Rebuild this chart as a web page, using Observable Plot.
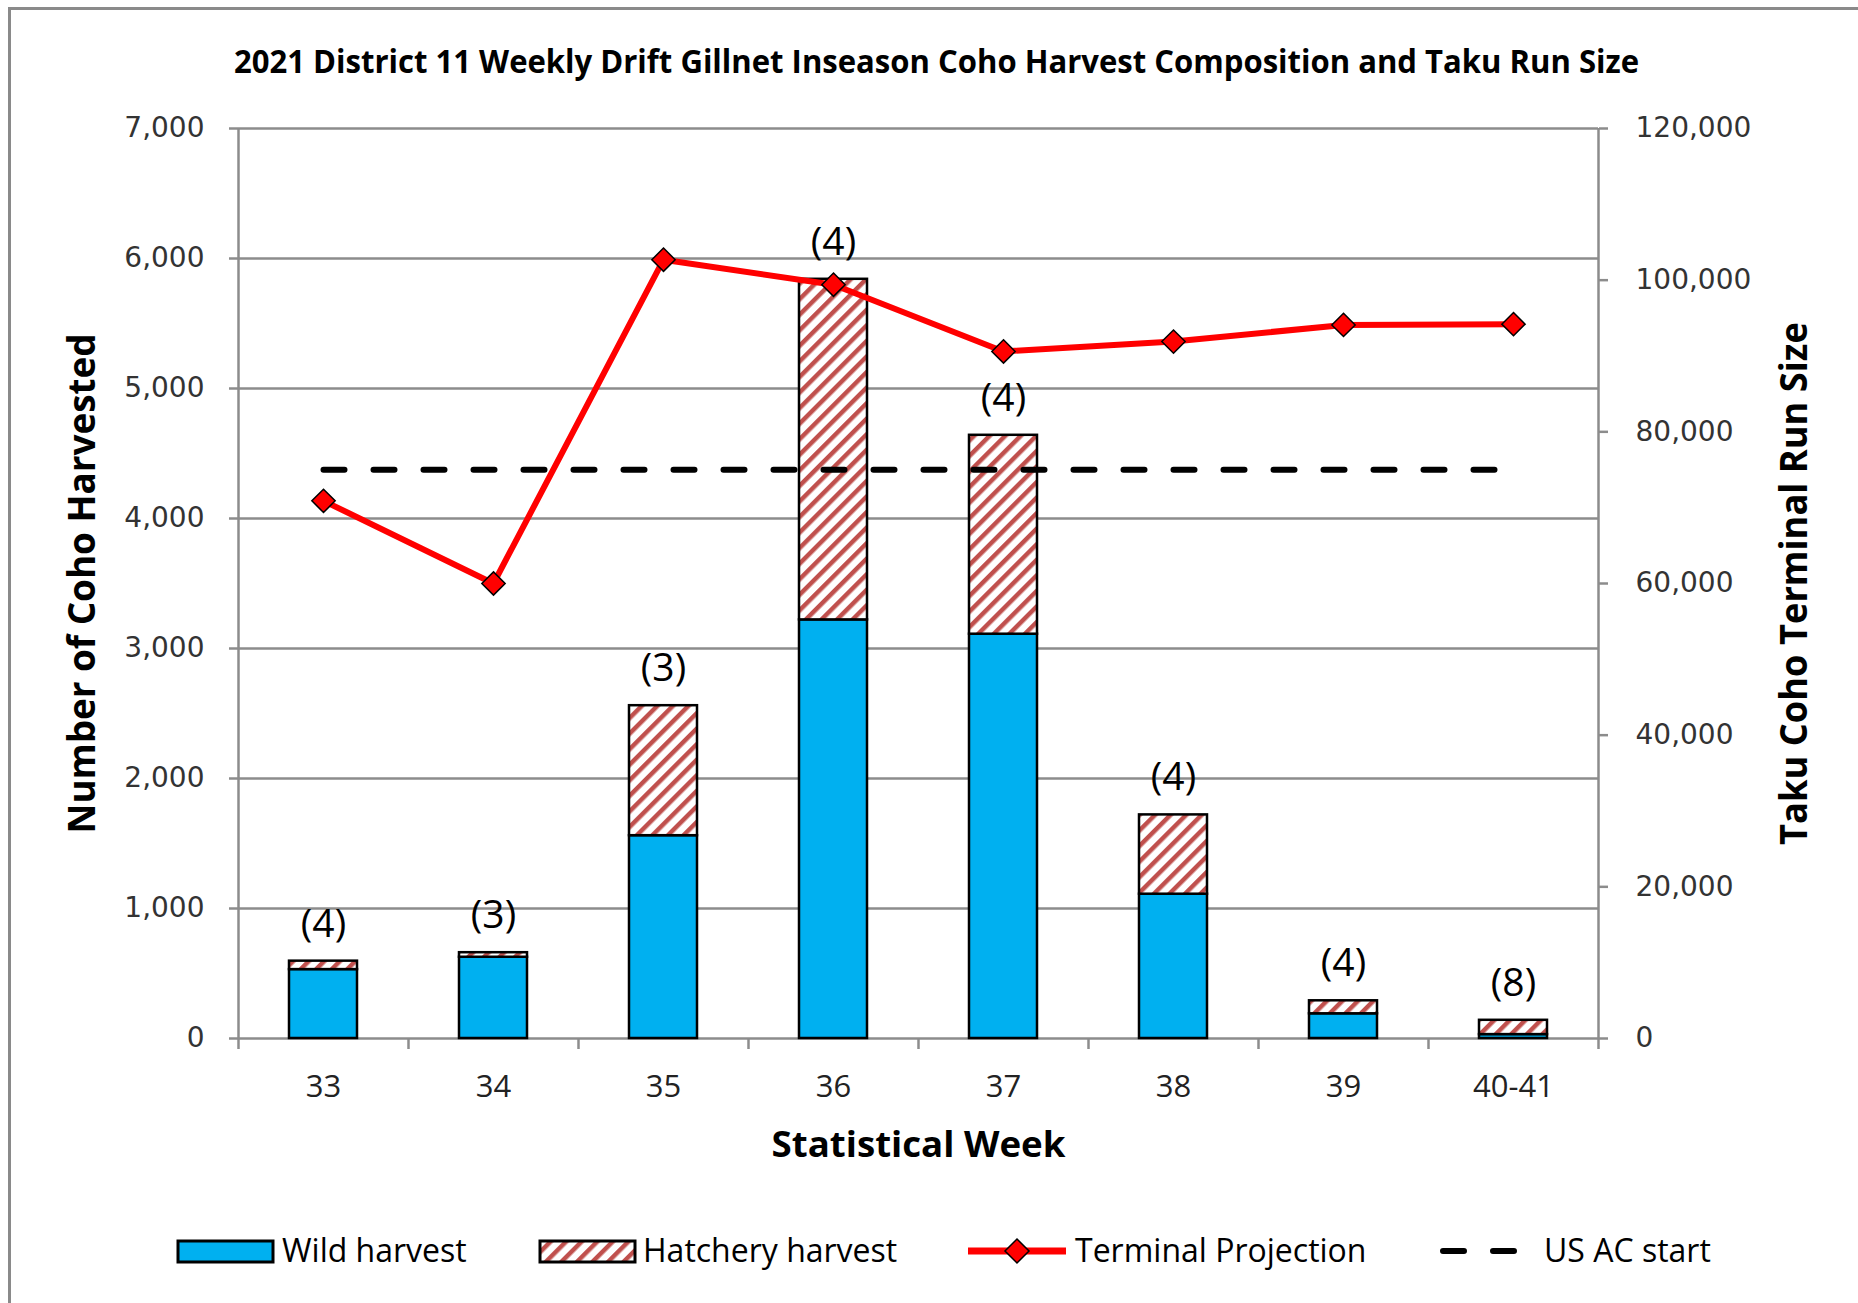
<!DOCTYPE html>
<html><head><meta charset="utf-8">
<script src="https://cdn.jsdelivr.net/npm/d3@7"></script>
<script src="https://cdn.jsdelivr.net/npm/@observablehq/plot@0.6"></script>
<style>
html,body{margin:0;padding:0;background:#fff;}
body{width:1858px;height:1303px;position:relative;overflow:hidden;font-family:"Open Sans",sans-serif;}
#frame{position:absolute;left:8px;top:7px;width:1900px;height:1400px;border-left:3px solid #8a8a8a;border-top:3px solid #8a8a8a;}
#title{position:absolute;left:0;top:0;white-space:nowrap;font-weight:700;font-size:32px;line-height:1;color:#000;transform-origin:0 0;}
#chart{position:absolute;left:0;top:100px;}
#legend{position:absolute;left:0;top:0;width:1858px;height:1303px;}
.li{position:absolute;font-size:32px;line-height:1;white-space:nowrap;color:#000;}
.sw{position:absolute;left:0;top:0;}
</style></head><body>
<div id="frame"></div>
<div id="title">2021 District 11 Weekly Drift Gillnet Inseason Coho Harvest Composition and Taku Run Size</div>
<div id="chart"></div>
<div id="legend"></div>
<script>
// ---- data ----
const weeks = ["33", "34", "35", "36", "37", "38", "39", "40-41"];
const wildHarvest = [530, 625, 1560, 3220, 3110, 1110, 190, 30];
const hatcheryHarvest = [65, 35, 1000, 2620, 1530, 610, 100, 110];
const terminalProjection = [70900, 60000, 102700, 99400, 90600, 91900, 94100, 94200];
const usAcStart = 75000;
const sampleSizes = ["(4)", "(3)", "(3)", "(4)", "(4)", "(4)", "(4)", "(8)"];
const leftTicks = [0, 1000, 2000, 3000, 4000, 5000, 6000, 7000];
const rightTicks = [0, 20000, 40000, 60000, 80000, 100000, 120000];
const seriesNames = ["Wild harvest", "Hatchery harvest", "Terminal Projection", "US AC start"];

// ---- build ----
const Y_MAX = 7000, Y2_MAX = 120000, k = Y_MAX / Y2_MAX;
const rows = weeks.map((w, i) => ({
  week: w, wild: wildHarvest[i], hatchery: hatcheryHarvest[i],
  total: wildHarvest[i] + hatcheryHarvest[i],
  terminal: terminalProjection[i], ac: usAcStart, n: sampleSizes[i]
}));

const W = 1858, H = 1080, mL = 238, mR = 260, mT = 28, mB = 142;
const step = (W - mL - mR) / weeks.length;
const grey = "#8c8c8c";
const fmt = d3.format(",");
const bold = {fontFamily: "'Open Sans', sans-serif", fontWeight: "bold", fill: "#000", lineAnchor: "middle", textAnchor: "middle"};

const plot = Plot.plot({
  width: W, height: H,
  marginLeft: mL, marginRight: mR, marginTop: mT, marginBottom: mB,
  style: {fontFamily: "'DejaVu Sans', sans-serif", fontSize: "28px", color: "#333", background: "none", overflow: "visible"},
  x: {type: "band", domain: weeks, paddingInner: 0.6, paddingOuter: 0.3, label: null},
  y: {domain: [0, Y_MAX], label: null},
  marks: [
    Plot.gridY(leftTicks, {stroke: grey, strokeOpacity: 1, strokeWidth: 2.5}),
    Plot.ruleX([weeks[0]], {x: d => d, dx: -step / 2, stroke: grey, strokeWidth: 2.5, insetBottom: -11}),
    Plot.ruleX([weeks[weeks.length - 1]], {x: d => d, dx: step / 2, stroke: grey, strokeWidth: 2.5, insetBottom: -11}),
    Plot.ruleX(weeks.slice(1), {x: d => d, y1: 0, y2: 0, dx: -step / 2, stroke: grey, strokeWidth: 2.5, insetBottom: -11}),
    Plot.axisY(leftTicks, {anchor: "left", tickSize: 9, tickPadding: 25, stroke: grey, strokeWidth: 2.5, tickFormat: fmt, fontSize: 28, fill: "#333", label: null}),
    Plot.axisY(rightTicks.map(d => d * k), {anchor: "right", tickSize: 9, tickPadding: 28, stroke: grey, strokeWidth: 2.5, tickFormat: d => fmt(Math.round(d / k)), fontSize: 28, fill: "#333", label: null}),
    Plot.axisX({tickSize: 0, tickPadding: 36, fontFamily: "'Open Sans', sans-serif", fontSize: 31, fill: "#222", label: null}),
    Plot.barY(rows, {x: "week", y1: 0, y2: "wild", fill: "#00b0f0", stroke: "black", strokeWidth: 2.5}),
    Plot.barY(rows, {x: "week", y1: "wild", y2: "total", fill: "url(#hatch)", stroke: "black", strokeWidth: 2.5}),
    Plot.line(rows, {x: "week", y: d => d.ac * k, stroke: "black", strokeWidth: 6, strokeDasharray: "21,29", strokeLinecap: "round"}),
    Plot.line(rows, {x: "week", y: d => d.terminal * k, stroke: "#ff0000", strokeWidth: 6}),
    Plot.dot(rows, {x: "week", y: d => d.terminal * k, symbol: "diamond2", r: 10.5, fill: "#ff0000", stroke: "black", strokeWidth: 1.5}),
    Plot.text(rows, {x: "week", y: "total", text: "n", dy: -37, lineAnchor: "middle", fontFamily: "'Open Sans', sans-serif", fontSize: 39, fill: "#000"}),
    Plot.text(["Number of Coho Harvested"], {...bold, frameAnchor: "left", dx: 83 - mL, rotate: -90, fontSize: 37}),
    Plot.text(["Taku Coho Terminal Run Size"], {...bold, frameAnchor: "right", dx: 1795 - (W - mR), rotate: -90, fontSize: 37}),
    Plot.text(["Statistical Week"], {...bold, frameAnchor: "bottom", dy: 107, fontSize: 36})
  ]
});

plot.insertAdjacentHTML("afterbegin",
  '<defs><pattern id="hatch" patternUnits="userSpaceOnUse" width="11" height="11" patternTransform="rotate(45)">' +
  '<rect width="11" height="11" fill="#fff"/><rect width="4.5" height="11" fill="#c0504d"/></pattern></defs>');
document.getElementById("chart").appendChild(plot);

// compress condensed-looking texts to the widths of the original
const fits = {"Number of Coho Harvested": 500, "Taku Coho Terminal Run Size": 523, "Statistical Week": 294};
plot.querySelectorAll("text").forEach(t => {
  const L = fits[t.textContent];
  if (L) { t.setAttribute("textLength", L); t.setAttribute("lengthAdjust", "spacingAndGlyphs"); }
});

// title
const title = document.getElementById("title");
const tw = title.getBoundingClientRect().width;
const targetW = 1405;
title.style.left = (936 - targetW / 2) + "px";
title.style.top = (73 - 0.888 * 32) + "px";
title.style.transform = `scaleX(${targetW / tw})`;

// legend
const legend = document.getElementById("legend");
const cy = 1251;
const swatches = `
<svg class="sw" width="1858" height="1303">
  <rect x="178" y="${cy - 10}" width="95" height="21" fill="#00b0f0" stroke="#000" stroke-width="3"/>
  <rect x="540" y="${cy - 10}" width="95" height="21" fill="url(#hatch)" stroke="#000" stroke-width="3"/>
  <line x1="968" x2="1066" y1="${cy}" y2="${cy}" stroke="#ff0000" stroke-width="7"/>
  <path d="M1017,${cy - 12}L1029,${cy}L1017,${cy + 12}L1005,${cy}Z" fill="#ff0000" stroke="#000" stroke-width="1.5"/>
  <line x1="1443" x2="1518" y1="${cy}" y2="${cy}" stroke="#000" stroke-width="6" stroke-dasharray="21,29" stroke-linecap="round"/>
</svg>`;
legend.insertAdjacentHTML("beforeend", swatches);
const textX = [282, 643, 1075, 1544];
seriesNames.forEach((name, i) => {
  const d = document.createElement("div");
  d.className = "li";
  d.textContent = name;
  d.style.left = textX[i] + "px";
  d.style.top = (cy + 11 - 0.888 * 32) + "px";
  legend.appendChild(d);
});
</script>
</body></html>
